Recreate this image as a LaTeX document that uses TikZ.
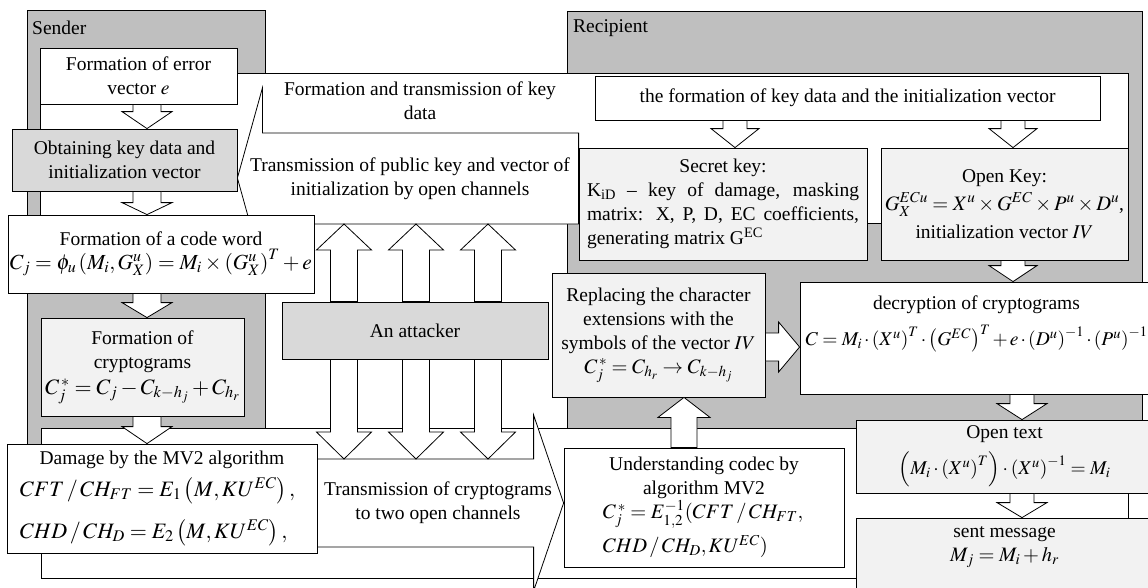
\documentclass[tikz,border=0pt]{standalone}
\usepackage{amsmath}
\usepackage{mathptmx}
\usepackage{fontspec}
\setmainfont{Liberation Serif}
\usetikzlibrary{calc}
\pgfdeclarelayer{back}
\pgfdeclarelayer{mid}
\pgfsetlayers{back,mid,main}
\definecolor{panelgray}{RGB}{191,191,191}
\definecolor{boxgray}{RGB}{217,217,217}
\definecolor{boxlight}{RGB}{242,242,242}
\newcommand{\dfont}{\fontsize{19.5}{24}\selectfont}
% formula at a given size
\newcommand{\fml}[2]{{\fontsize{#1}{#1}\selectfont$#2$}}
\newcommand{\vblk}[5]{%
  \coordinate (vb s) at (#1);
  \coordinate (vb t) at (#2);
  \draw[blk] (vb t) -- ++(-#5,#3) -- ($(vb t)+(-#4,#3)$) -- ($(vb s)+(-#4,0)$)
    -- ($(vb s)+(#4,0)$) -- ($(vb t)+(#4,#3)$) -- ($(vb t)+(#5,#3)$) -- cycle;}

\begin{document}
\begin{tikzpicture}[x=1pt,y=-1pt,
  every node/.style={font=\dfont,inner sep=2pt},
  panel/.style={draw,line width=0.8pt,fill=panelgray},
  wbox/.style={draw,line width=0.8pt,fill=white,align=center},
  gbox/.style={wbox,fill=boxgray},
  lbox/.style={wbox,fill=boxlight},
  blk/.style={draw,line width=0.8pt,fill=white,line join=miter}]
%
\useasboundingbox (0,0) rectangle (1148,587);
%
% sender
\node[wbox,minimum width=197,minimum height=56] (err) at (138.5,76) {Formation of error\\vector $e$};
\node[gbox,minimum width=225,minimum height=62] (obt) at (124.5,160) {Obtaining key data and\\initialization vector};
\node[wbox,minimum width=298,minimum height=78] (cw) at (161,254) {Formation of a code word\\\fml{21.5}{C_j=\phi_u\left(M_i,G_X^u\right)=M_i\times\left(G_X^u\right)^T+e}};
\node[lbox,minimum width=203,minimum height=98] (fc) at (142.5,367) {Formation of\\cryptograms\\[2pt]\fml{22}{C_j^{\,*}=C_j-C_{k-h_j}+C_{h_r}}};
\node[wbox,minimum width=310,minimum height=109] (dmg) at (162,498.5) {Damage by the MV2 algorithm\\[8pt]\makebox[284pt][l]{\fml{22}{CFT\,/\,CH_{FT}=E_1\left(M,KU^{EC}\right),}}\\[14pt]\makebox[284pt][l]{\fml{22}{CHD\,/\,CH_D=E_2\left(M,KU^{EC}\right),}}};
%
% attacker
\node[gbox,minimum width=266,minimum height=57] (att) at (415,330.5) {An attacker};
%
% recipient
\node[wbox,minimum width=505,minimum height=44] (fkd) at (847.5,98) {the formation of key data and the initialization vector};
\node[lbox,minimum width=288,minimum height=112] (sk) at (723,204) {Secret key:\\\makebox[272pt][s]{K\textsubscript{iD} -- key of damage, masking}\\\makebox[272pt][s]{matrix: X, P, D, EC coefficients,}\\\makebox[272pt][l]{generating matrix G\textsuperscript{EC}}};
\node[lbox,minimum width=247,minimum height=112] (ok) at (1004.5,204) {Open Key:\\[4pt]\fml{20.5}{G_X^{ECu}=X^u\times G^{EC}\times P^u\times D^u},\\[4pt]initialization vector $IV$};
\node[lbox,minimum width=213,minimum height=124] (rep) at (658.5,335) {Replacing the character\\extensions with the\\symbols of the vector $IV$\\\fml{20.5}{C_j^{\,*}=C_{h_r}\to C_{k-h_j}}};
\node[wbox,minimum width=353,minimum height=112] (dec) at (976.5,338) {};
\node[align=center] (dect) at (976.5,324) {decryption of cryptograms\\[10pt]$\medmuskip=2mu C=M_i\cdot\left(X^u\right)^T\cdot\left(G^{EC}\right)^T+e\cdot\left(D^u\right)^{-1}\cdot\left(P^u\right)^{-1}$};
\node[wbox,minimum width=280,minimum height=119] (und) at (704,507.5) {Understanding codec by\\algorithm MV2\\\makebox[202pt][l]{\fml{20.5}{C_j^{\,*}=E_{1,2}^{-1}(CFT\,/\,CH_{FT},}}\\[6pt]\makebox[202pt][l]{\fml{20.5}{CHD\,/\,CH_D,KU^{EC})}}};
\node[lbox,minimum width=297,minimum height=73] (opt) at (1004.5,456.5) {Open text\\[8pt]$\left(M_i\cdot\left(X^u\right)^T\right)\cdot\left(X^u\right)^{-1}=M_i$};
\node[lbox,minimum width=297,minimum height=92] (snt) at (1004.5,564) {};
\node[align=center] (sntt) at (1004.5,547) {sent message\\\fml{20.5}{M_j=M_i+h_r}};
%
% panels and channels
\begin{pgfonlayer}{back}
\node[panel,minimum width=238,minimum height=490] (snd) at (146,255) {};
\node[panel,minimum width=575,minimum height=424] (rcp) at (854.5,223) {};
\node[anchor=west] (sndl) at (30,28) {Sender};
\node[anchor=west] (rcpl) at (571,28) {Recipient};
\node[wbox,minimum width=1088,minimum height=150] (keyarea) at (584,148) {};
\node[wbox,minimum width=1087,minimum height=150] (crarea) at (584.5,503) {};
\node[align=center] (keyl) at (420,101) {Formation and transmission of key\\data};
\end{pgfonlayer}
%
\begin{pgfonlayer}{mid}
\coordinate (pktip) at (obt.east |- 0,178);
\draw[blk] (pktip) -- ++(25,-90) |- (sk.west |- 0,133) -- (sk.west |- 0,224) -| ($(pktip)+(25,90)$) -- cycle;
\node[align=center] (pkl) at (410,179) {Transmission of public key and vector of\\initialization by open channels};
\coordinate (cttip) at (und.west |- 0,503);
\draw[blk] (cttip) -- ++(-30,-88) |- (dmg.east |- 0,459) -- (dmg.east |- 0,547) -| ($(cttip)+(-30,88)$) -- cycle;
\node[align=center] (ctl) at (438,503) {Transmission of cryptograms\\to two open channels};
\coordinate (pkbot) at (sk.west |- 0,224);
\coordinate (cttop) at (dmg.east |- 0,459);
\foreach \ax in {344,416,488}{
  \vblk{att.north -| \ax,0}{pkbot -| \ax,0}{26}{13.5}{27.5}
  \vblk{att.south -| \ax,0}{cttop -| \ax,0}{-27}{13.5}{27.5}
}
\end{pgfonlayer}
%
% block arrows
\coordinate (sx) at (147,0);
\vblk{err.south -| sx}{obt.north -| sx}{-17}{14}{25}
\vblk{obt.south -| sx}{cw.north -| sx}{-12}{14}{25}
\vblk{cw.south -| sx}{fc.north -| sx}{-15}{14}{25}
\vblk{fc.south -| sx}{dmg.north -| sx}{-17}{14}{25}
\vblk{fkd.south -| 735,0}{sk.north -| 735,0}{-19}{12}{24}
\vblk{fkd.south -| 1013,0}{ok.north -| 1013,0}{-19}{12}{24}
\vblk{ok.south -| 1013,0}{dec.north -| 1013,0}{-16}{12}{24}
\vblk{dec.south -| 1022,0}{opt.north -| 1022,0}{-16}{12}{25}
\vblk{opt.south -| 1022,0}{snt.north -| 1022,0}{-15}{12}{25}
\vblk{und.north -| 684,0}{rep.south -| 684,0}{20}{13}{26}
\coordinate (rdtip) at (dec.west |- 0,347);
\draw[blk] (rdtip) -- ++(-21,-25) |- (rep.east |- 0,333) -- (rep.east |- 0,361) -| ($(rdtip)+(-21,25)$) -- cycle;
%
\end{tikzpicture}
\end{document}
